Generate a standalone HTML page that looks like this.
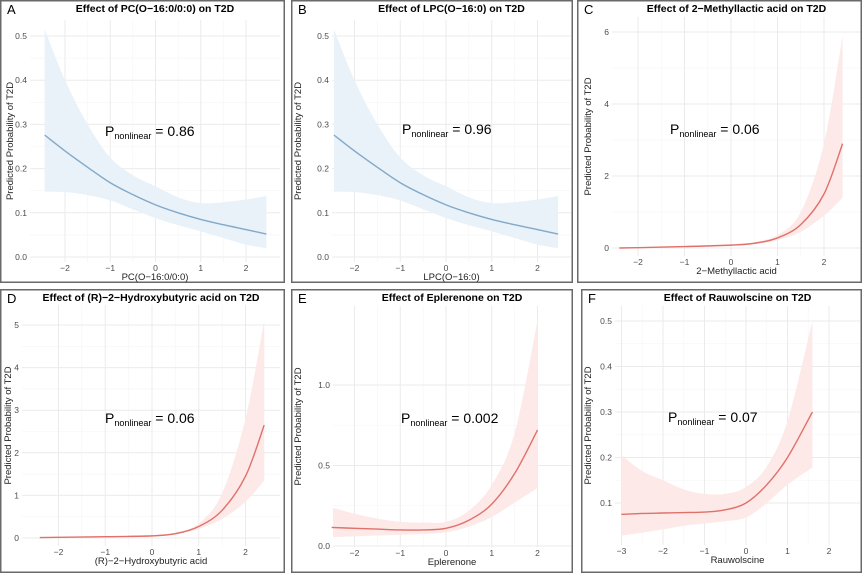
<!DOCTYPE html>
<html><head><meta charset="utf-8"><style>
body{margin:0;background:#fff;}
svg{display:block;font-family:"Liberation Sans",sans-serif;}
</style></head><body>
<svg id="fig" width="865" height="574" viewBox="0 0 865 574"></svg>
<script>
// ---- data ----
const pcX = [-2.45,-2,-1.5,-1,-0.5,0,0.5,1,1.5,2,2.45];
const pcFit = [0.276,0.24,0.203,0.168,0.141,0.118,0.1,0.085,0.073,0.062,0.052];
const pcUpper = [0.515,0.4,0.3,0.225,0.185,0.16,0.135,0.122,0.124,0.13,0.138];
const pcLower = [0.148,0.147,0.14,0.128,0.108,0.088,0.072,0.058,0.043,0.028,0.02];
const lpcX = [-2.45,-2,-1.5,-1,-0.5,0,0.5,1,1.5,2,2.45];
const lpcFit = [0.276,0.24,0.203,0.168,0.141,0.118,0.1,0.085,0.073,0.062,0.052];
const lpcUpper = [0.515,0.4,0.3,0.225,0.185,0.16,0.135,0.122,0.124,0.13,0.138];
const lpcLower = [0.148,0.147,0.14,0.128,0.108,0.088,0.072,0.058,0.043,0.028,0.02];
const mlaX = [-2.4,-2,-1,0,0.5,1,1.5,2,2.4];
const mlaFit = [0.0,0.01,0.04,0.08,0.13,0.28,0.65,1.5,2.9];
const mlaUpper = [0.01,0.02,0.05,0.1,0.17,0.36,1.0,2.9,5.9];
const mlaLower = [-0.01,0.0,0.03,0.06,0.1,0.22,0.45,0.9,1.4];
const hbaX = [-2.4,-2,-1,0,0.5,1,1.5,2,2.4];
const hbaFit = [0.01,0.015,0.03,0.05,0.1,0.27,0.65,1.45,2.65];
const hbaUpper = [0.02,0.025,0.04,0.07,0.13,0.34,1.05,2.8,5.1];
const hbaLower = [0.0,0.005,0.02,0.04,0.08,0.21,0.45,0.85,1.35];
const epX = [-2.5,-2,-1.5,-1,-0.5,0,0.5,1,1.5,2];
const epFit = [0.115,0.11,0.105,0.1,0.1,0.11,0.16,0.26,0.45,0.72];
const epUpper = [0.24,0.2,0.17,0.15,0.145,0.15,0.22,0.38,0.7,1.4];
const epLower = [0.055,0.06,0.065,0.07,0.075,0.085,0.12,0.18,0.27,0.36];
const rauX = [-3,-2.5,-2,-1.5,-1,-0.5,0,0.5,1,1.6];
const rauFit = [0.075,0.077,0.078,0.079,0.08,0.085,0.1,0.14,0.2,0.3];
const rauUpper = [0.205,0.17,0.15,0.13,0.12,0.12,0.135,0.18,0.28,0.5];
const rauLower = [0.028,0.035,0.042,0.05,0.055,0.06,0.068,0.1,0.14,0.178];
const xTicksA = [-2,-1,0,1,2];
const xTicksF = [-3,-2,-1,0,1,2];
const yTicksPC = [0,0.1,0.2,0.3,0.4,0.5];
const yTickLabelsPC = ["0.0","0.1","0.2","0.3","0.4","0.5"];
const yTicksMLA = [0,2,4,6];
const yTicksHBA = [0,1,2,3,4,5];
const yTicksEP = [0,0.5,1.0];
const yTickLabelsEP = ["0.0","0.5","1.0"];
const yTicksRAU = [0.1,0.2,0.3,0.4,0.5];

const panels = [
 {id:'a',label:'A',title:'Effect of PC(O\u221216:0/0:0) on T2D',xt:'PC(O\u221216:0/0:0)',p:'0.86',
  box:[0,0,285,283],rect:[30,20,280,262],x0:155.5,ux:45.25,y0:257,uy:442,
  X:pcX,F:pcFit,U:pcUpper,L:pcLower,xt_:xTicksA,yt:yTicksPC,ytl:yTickLabelsPC,col:'blue',ann:[105,136],yl:10},
 {id:'b',label:'B',title:'Effect of LPC(O\u221216:0) on T2D',xt:'LPC(O\u221216:0)',p:'0.96',
  box:[291,0,573,283],rect:[332,20,571,262],x0:446,ux:45.75,y0:257,uy:442,
  X:lpcX,F:lpcFit,U:lpcUpper,L:lpcLower,xt_:xTicksA,yt:yTicksPC,ytl:yTickLabelsPC,col:'blue',ann:[402,134],yl:298},
 {id:'c',label:'C',title:'Effect of 2\u2212Methyllactic acid on T2D',xt:'2\u2212Methyllactic acid',p:'0.06',
  box:[577,0,862,283],rect:[612,17,861,256],x0:731,ux:46.5,y0:248,uy:36,
  X:mlaX,F:mlaFit,U:mlaUpper,L:mlaLower,xt_:xTicksA,yt:yTicksMLA,ytl:null,col:'red',ann:[670,134],yl:588},
 {id:'d',label:'D',title:'Effect of (R)\u22122\u2212Hydroxybutyric acid on T2D',xt:'(R)\u22122\u2212Hydroxybutyric acid',p:'0.06',
  box:[0,289,285,573],rect:[22,305,280,546],x0:152,ux:46.75,y0:538,uy:42.6,
  X:hbaX,F:hbaFit,U:hbaUpper,L:hbaLower,xt_:xTicksA,yt:yTicksHBA,ytl:null,col:'red',ann:[105,423],yl:8},
 {id:'e',label:'E',title:'Effect of Eplerenone on T2D',xt:'Eplerenone',p:'0.002',
  box:[291,289,573,573],rect:[333,306,571,547],x0:446,ux:45.75,y0:546,uy:161,
  X:epX,F:epFit,U:epUpper,L:epLower,xt_:xTicksA,yt:yTicksEP,ytl:yTickLabelsEP,col:'red',ann:[401,423],yl:298},
 {id:'f',label:'F',title:'Effect of Rauwolscine on T2D',xt:'Rauwolscine',p:'0.07',
  box:[581,289,862,573],rect:[615,306,860,545],x0:746,ux:41.5,y0:548.5,uy:455,
  X:rauX,F:rauFit,U:rauUpper,L:rauLower,xt_:xTicksF,yt:yTicksRAU,ytl:null,col:'red',ann:[668,422],yl:588}
];
const NS='http://www.w3.org/2000/svg';
const svg=document.getElementById('fig');
function mk(tag,attrs,parent,text){const e=document.createElementNS(NS,tag);for(const k in attrs)e.setAttribute(k,attrs[k]);if(text!==undefined)e.textContent=text;parent.appendChild(e);return e;}
function smooth(pts){let d='M'+pts[0][0]+','+pts[0][1];for(let i=0;i<pts.length-1;i++){const p0=pts[Math.max(0,i-1)],p1=pts[i],p2=pts[i+1],p3=pts[Math.min(pts.length-1,i+2)];
 const c1=[p1[0]+(p2[0]-p0[0])/6,p1[1]+(p2[1]-p0[1])/6],c2=[p2[0]-(p3[0]-p1[0])/6,p2[1]-(p3[1]-p1[1])/6];
 d+=' C'+c1[0]+','+c1[1]+' '+c2[0]+','+c2[1]+' '+p2[0]+','+p2[1];}return d;}
panels.forEach(P=>{
 const g=mk('g',{},svg);
 
 
 const sx=v=>P.x0+v*P.ux, sy=v=>P.y0-v*P.uy;
 const [l,t,r,b]=P.rect;
 const clip=mk('clipPath',{id:'clip'+P.id},g);mk('rect',{x:l,y:t,width:r-l,height:b-t},clip);
 for(let i=0;i<P.xt_.length-1;i++){const x=sx((P.xt_[i]+P.xt_[i+1])/2);mk('line',{x1:x,x2:x,y1:t,y2:b,stroke:'#f5f5f5','stroke-width':0.6},g);}
 for(let i=0;i<P.yt.length-1;i++){const y=sy((P.yt[i]+P.yt[i+1])/2);mk('line',{x1:l,x2:r,y1:y,y2:y,stroke:'#f5f5f5','stroke-width':0.6},g);}
 P.xt_.forEach(v=>{const x=sx(v);const gl=mk('line',{x1:x,x2:x,y1:t,y2:b,stroke:'#ebebeb','stroke-width':1},g);
  
  
  const tl=mk('text',{x:x,y:b+9,'font-size':8.5,fill:'#4d4d4d','text-anchor':'middle'},g,String(v).replace('-','\u2212'));
  
  });
 P.yt.forEach((v,i)=>{const y=sy(v);const gl=mk('line',{x1:l,x2:r,y1:y,y2:y,stroke:'#ebebeb','stroke-width':1},g);
  
  
  const tl=mk('text',{x:l-3,y:y+3,'font-size':8.5,fill:'#4d4d4d','text-anchor':'end'},g,P.ytl?P.ytl[i]:String(v));
  
  });
 const up=P.X.map((x,i)=>[sx(x),sy(P.U[i])]), lo=P.X.map((x,i)=>[sx(x),sy(P.L[i])]).reverse();
 const sl=smooth(lo);
 const band=smooth(up)+' L'+lo[0][0]+','+lo[0][1]+sl.slice(sl.indexOf(' '))+' Z';
 const rib=mk('path',{d:band,fill:P.col==='blue'?'#e9f1f9':'#fce9e8','clip-path':'url(#clip'+P.id+')'},g);
 
 
 const ln=mk('path',{d:smooth(P.X.map((x,i)=>[sx(x),sy(P.F[i])])),fill:'none',stroke:P.col==='blue'?'#82a9c8':'#e0706a','stroke-width':1.4},g);
 
 
 const bx=P.box;
 const br=mk('rect',{x:bx[0]+0.75,y:bx[1]+0.75,width:bx[2]-bx[0]-1.5,height:bx[3]-bx[1]-1.5,fill:'none',stroke:'#6a6a6a','stroke-width':1.5},g);
 
 
 const lb=mk('text',{x:bx[0]+7,y:bx[1]+14,'font-size':13,fill:'#000'},g,P.label);
 
 
 const ti=mk('text',{x:(l+r)/2,y:bx[1]+12,'font-size':10.5,'font-weight':'bold','text-anchor':'middle',fill:'#000'},g,P.title);
 
 
 const xa=mk('text',{x:(l+r)/2,y:b+18,'font-size':9.5,'text-anchor':'middle',fill:'#222'},g,P.xt);
 
 
 const yc=(t+b)/2;
 const ya=mk('text',{x:0,y:0,'font-size':9.5,'text-anchor':'middle',fill:'#222',transform:'translate('+(P.yl+3)+','+yc+') rotate(-90)'},g,'Predicted Probability of T2D');
 
 
 const an=mk('text',{x:P.ann[0],y:P.ann[1],'font-size':14,fill:'#000'},g);
 
 
 mk('tspan',{},an,'P');mk('tspan',{'font-size':9,dy:3},an,'nonlinear');mk('tspan',{dy:-3},an,' = '+P.p);
});
</script>
</body></html>
